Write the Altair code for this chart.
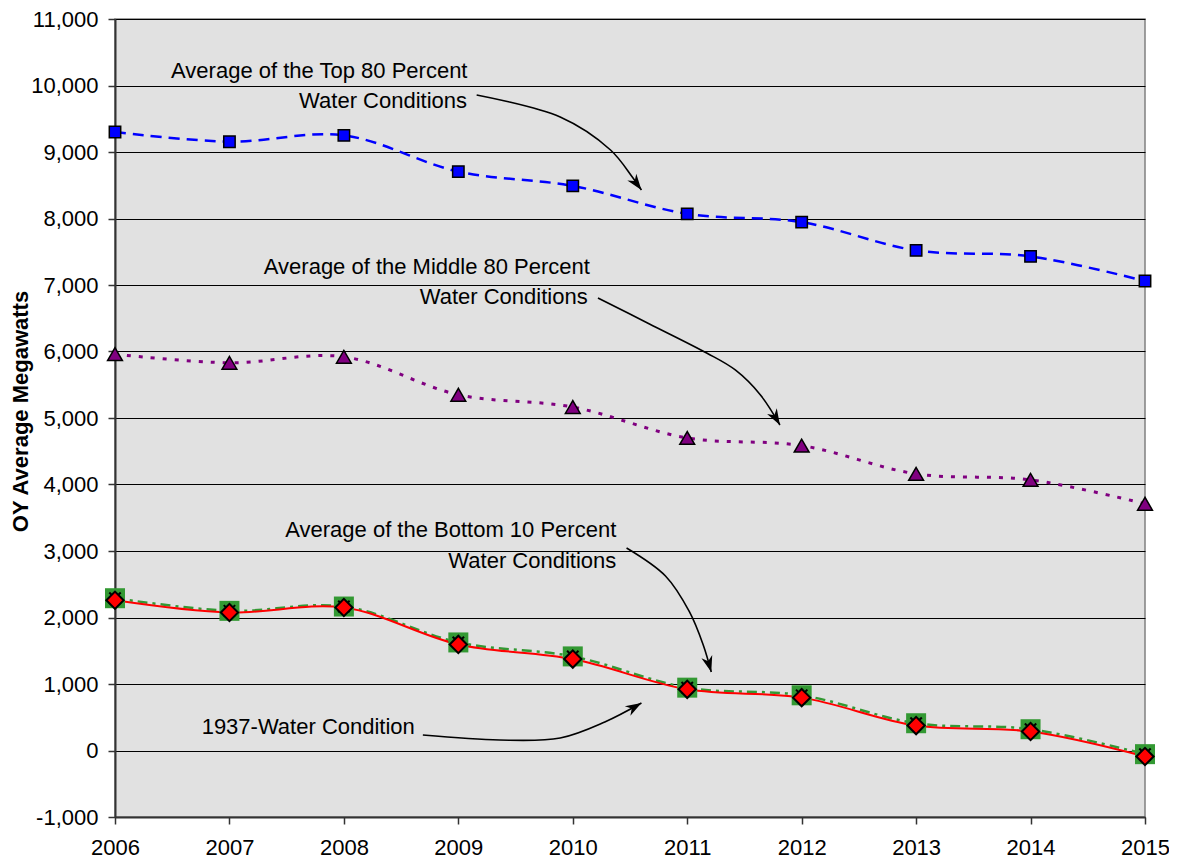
import altair as alt
import pandas as pd

years = [2006, 2007, 2008, 2009, 2010, 2011, 2012, 2013, 2014, 2015]
top80 = [9300, 9155, 9250, 8705, 8490, 8070, 7945, 7520, 7430, 7060]
mid80 = [5960, 5830, 5920, 5350, 5165, 4700, 4585, 4160, 4070, 3710]
bottom10 = [2290, 2100, 2165, 1625, 1415, 945, 830, 410, 320, -55]
w1937 = [2260, 2075, 2150, 1595, 1375, 920, 795, 375, 285, -90]

y_ticks = list(range(-1000, 11001, 1000))

ann_text = ["Average of the Top 80 Percent", "Water Conditions",
            "Average of the Middle 80 Percent", "Water Conditions",
            "Average of the Bottom 10 Percent", "Water Conditions",
            "1937-Water Condition"]
ann_x = [2009.08, 2009.076, 2010.15, 2010.13, 2010.38, 2010.38, 2008.62]
ann_y = [10218, 9767, 7271, 6820, 3316, 2850, 353]

arrow_id = [1, 1, 1, 1, 1,
            2, 2, 2, 2, 2, 2,
            3, 3, 3, 3, 3,
            4, 4, 4, 4, 4]
arrow_x = [2009.16, 2009.89, 2010.33, 2010.52, 2010.60,
           2010.22, 2010.67, 2011.17, 2011.42, 2011.64, 2011.81,
           2010.47, 2010.81, 2011.02, 2011.14, 2011.21,
           2008.69, 2009.36, 2009.89, 2010.28, 2010.60]
arrow_y = [9857, 9526, 9030, 8624, 8429,
           6805, 6414, 5977, 5722, 5346, 4895,
           3045, 2624, 2083, 1586, 1180,
           233, 158, 188, 429, 714]
head_x = [2010.60, 2011.81, 2011.21, 2010.60]
head_y = [8429, 4895, 1180, 714]
head_angle = [143, 150, 164, 60]

df = pd.DataFrame({"year": years, "top80": top80, "mid80": mid80,
                   "bottom10": bottom10, "w1937": w1937})
ann = pd.DataFrame({"text": ann_text, "x": ann_x, "y": ann_y})
arr = pd.DataFrame({"id": arrow_id, "k": list(range(len(arrow_id))),
                    "x": arrow_x, "y": arrow_y})
heads = pd.DataFrame({"x": head_x, "y": head_y, "angle": head_angle})

FONT = "Liberation Sans"

xscale = alt.Scale(domain=[2006, 2015], nice=False, zero=False)
yscale = alt.Scale(domain=[-1000, 11000], nice=False, zero=False)

xaxis = alt.Axis(values=years, format="d", title=None, grid=False,
                 labelFont=FONT, labelFontSize=22, labelColor="black",
                 tickSize=7, tickColor="#333333", tickWidth=1.5,
                 domainColor="#333333", domainWidth=2, labelPadding=13,
                 labelFlush=False, labelOverlap=False)
yaxis = alt.Axis(values=y_ticks,
                 labelExpr="replace(format(datum.value, ',.0f'), '\u2212', '-')",
                 title="OY Average Megawatts",
                 grid=True, gridColor="black", gridWidth=1,
                 labelFont=FONT, labelFontSize=22, labelColor="black",
                 tickSize=7, tickColor="#333333", tickWidth=1.5,
                 domainColor="#333333", domainWidth=2, labelPadding=10,
                 titleFont=FONT, titleFontSize=22, titleFontWeight="bold",
                 titleColor="black", titleX=-88, titleY=392,
                 titleBaseline="alphabetic", labelFlush=False,
                 labelOverlap=False)

base = alt.Chart(df)


def X(field="year", axis=None):
    if axis is None:
        return alt.X(f"{field}:Q", scale=xscale)
    return alt.X(f"{field}:Q", scale=xscale, axis=axis)


def Y(field, axis=None):
    if axis is None:
        return alt.Y(f"{field}:Q", scale=yscale)
    return alt.Y(f"{field}:Q", scale=yscale, axis=axis)


SMOOTH = "catmull-rom"

grid_layer = base.mark_point(opacity=0).encode(x=X("year", xaxis), y=Y("top80", yaxis))

top_line = base.mark_line(color="#0000ff", strokeWidth=2.5, strokeDash=[11, 7],
                          interpolate=SMOOTH).encode(x=X(), y=Y("top80"))
top_pts = base.mark_point(shape="square", size=130, filled=True, fill="#0000ff",
                          stroke="black", strokeWidth=1.5, opacity=1).encode(x=X(), y=Y("top80"))

mid_line = base.mark_line(color="#800080", strokeWidth=3, strokeDash=[4, 8],
                          interpolate=SMOOTH).encode(x=X(), y=Y("mid80"))
mid_pts = base.mark_point(shape="triangle-up", size=220, filled=True, fill="#800080",
                          stroke="black", strokeWidth=1.5, opacity=1).encode(x=X(), y=Y("mid80"))

b10_line = base.mark_line(color="#339933", strokeWidth=2.5, strokeDash=[10, 5, 3, 5],
                          interpolate=SMOOTH).encode(x=X(), y=Y("bottom10"))
w37_line = base.mark_line(color="#ff0000", strokeWidth=2,
                          interpolate=SMOOTH).encode(x=X(), y=Y("w1937"))
b10_pts = base.mark_point(shape="square", size=400, filled=True, fill="#339933",
                          strokeWidth=0, opacity=1).encode(x=X(), y=Y("bottom10"))
x_pts = base.mark_point(shape="M-1,-1L1,1M-1,1L1,-1", size=130, filled=False,
                        stroke="black", strokeWidth=2, opacity=1).encode(x=X(), y=Y("bottom10"))
w37_pts = base.mark_point(shape="diamond", size=300, filled=True, fill="#ff0000",
                          stroke="black", strokeWidth=2, opacity=1).encode(x=X(), y=Y("w1937"))

arrows = alt.Chart(arr).mark_line(color="black", strokeWidth=1.6,
                                  interpolate="catmull-rom").encode(
    x=X("x"), y=Y("y"), detail="id:N", order="k:Q")
arrow_heads = alt.Chart(heads).mark_point(
    shape="M0,0L-0.7,2L0,1.4L0.7,2Z", size=256, filled=True, fill="black",
    strokeWidth=0, opacity=1).encode(x=X("x"), y=Y("y"), angle=alt.Angle("angle:Q", scale=None))

labels = alt.Chart(ann).mark_text(align="right", baseline="middle", font=FONT,
                                  fontSize=22, color="black").encode(
    x=X("x"), y=Y("y"), text="text:N")

chart = alt.layer(
    grid_layer, top_line, top_pts, mid_line, mid_pts,
    b10_line, w37_line, b10_pts, x_pts, w37_pts,
    arrows, arrow_heads, labels
).properties(
    width=1030, height=798,
    autosize=alt.AutoSizeParams(type="none"),
    padding={"left": 107, "top": 11, "right": 24, "bottom": 43},
    background="white"
).configure_view(
    fill="#e1e1e1", stroke="#808080", strokeWidth=1.5
)

chart.save("out.html", embed_options={"renderer": "svg", "actions": False})
